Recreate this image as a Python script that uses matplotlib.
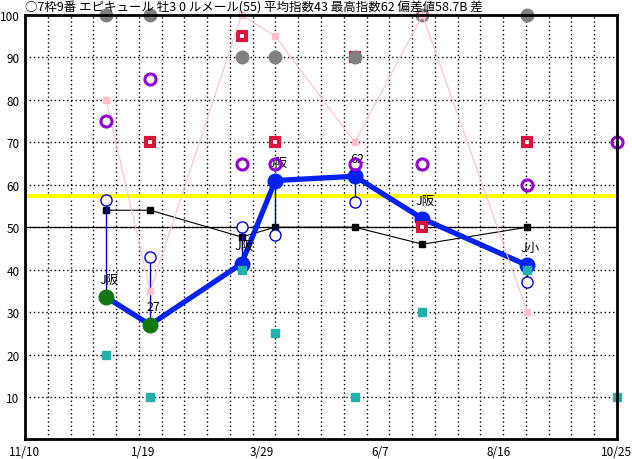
import matplotlib
matplotlib.use("Agg")
import matplotlib.pyplot as plt
import pandas as pd
import numpy as np

plt.rcParams['font.family'] = ['Noto Sans CJK JP', 'DejaVu Sans']

title = "○7枠9番 エピキュール 牡3 0 ルメール(55) 平均指数43 最高指数62 偏差値58.7B 差"

start_date = "2023-11-10"
end_date = "2024-10-25"
tick_labels = ["11/10", "1/19", "3/29", "6/7", "8/16", "10/25"]

race_dates = ["2023-12-28", "2024-01-23", "2024-03-17", "2024-04-06",
              "2024-05-23", "2024-07-02", "2024-09-02"]
next_date = "2024-10-25"

main_index = [33.5, 27, 41.4, 61, 62, 52, 41]
main_green = [True, True, False, False, False, False, False]
race_labels = ["J阪", "27", "J阪", "J阪", "62", "J阪", "J小"]
avg_line = [54, 54, 47.7, 50, 50, 46, 50]
low_circle = [56.3, 43, 50, 48.2, 56, None, 37]
purple_ring = [75, 85, 65, 65, 65, 65, 60]
purple_next = 70
red_square = [None, 70, 95, 70, 90, 50, 70]
gray_dot = [100, 100, 90, 90, 90, 100, 100]
pink_line = [80, 35, 100, 95, 70, 100, 30]
teal_square = [20, 10, 40, 25, 10, 30, 40]
teal_next = 10
dev_value = 57.3

t0 = pd.Timestamp(start_date)
def day(d):
    return (pd.Timestamp(d) - t0).days

xs = np.array([day(d) for d in race_dates])
x_next = day(next_date)
x_end = day(end_date)

fig = plt.figure(figsize=(6.32, 4.60), dpi=100)
ax = fig.add_axes([25 / 632, 19.6 / 460, 592 / 632, 424.4 / 460])
ax.set_xlim(0, x_end)
ax.set_ylim(0, 100)

# grid
for gx in np.linspace(0, x_end, 27)[1:-1]:
    ax.axvline(gx, color='black', lw=1, ls=(0, (1, 2)), zorder=1)
for gy in range(10, 100, 10):
    ax.axhline(gy, color='black', lw=1, ls=(0, (1, 2)), zorder=1)
ax.axhline(50, color='black', lw=0.9, zorder=2)
ax.axhline(dev_value, color='#ffff00', lw=3, zorder=2)

# average (black squares)
ax.plot(xs, avg_line, color='black', lw=0.8, marker='s', ms=4.5, zorder=3)

# low circles with vertical lines
for x, lo, m in zip(xs, low_circle, main_index):
    if lo is None:
        continue
    ax.plot([x, x], [lo, m], color='#0000cc', lw=1, zorder=3)
    ax.plot(x, lo, 'o', ms=8, mfc='white', mec='#0000cc', mew=1, zorder=3)

# main index line
ax.plot(xs, main_index, color='#0022ee', lw=3.8, zorder=4)
for x, v, g in zip(xs, main_index, main_green):
    c = '#117711' if g else '#0022ee'
    ax.plot(x, v, 'o', ms=10.5, color=c, zorder=5)
for x, v, lab in zip(xs, main_index, race_labels):
    ax.annotate(lab, (x, v), xytext=(2, 13), textcoords='offset points',
                ha='center', va='center', fontsize=9, zorder=6)

# pink line
ax.plot(xs, pink_line, color='#ffc0cb', lw=0.8, marker='s', ms=4,
        zorder=7, clip_on=False)

# teal squares
ax.plot(xs, teal_square, 's', ms=6, color='#20b2aa', ls='none', zorder=6)
ax.plot(x_next, teal_next, 's', ms=6, color='#20b2aa', zorder=6, clip_on=False)

# red squares
for x, v in zip(xs, red_square):
    if v is None:
        continue
    ax.plot(x, v, 's', ms=6, mfc='white', mec='#dc143c', mew=3, zorder=6)

# gray dots
ax.plot(xs, gray_dot, 'o', ms=9, color='#808080', ls='none', zorder=6.5,
        clip_on=False)

# purple rings
ax.plot(xs, purple_ring, 'o', ms=8, mfc='none', mec='#9400d3', mew=2.2,
        ls='none', zorder=8)
ax.plot(x_next, purple_next, 'o', ms=8, mfc='none', mec='#9400d3', mew=2.2,
        zorder=8, clip_on=False)

ax.set_xticks(np.linspace(0, x_end, len(tick_labels)))
ax.set_xticklabels(tick_labels)
ax.set_yticks(range(10, 101, 10))
ax.tick_params(length=0, labelsize=8.5, pad=4)
for s in ax.spines.values():
    s.set_linewidth(2)
    s.set_zorder(9)

fig.text(25 / 632, 1 - 8 / 460, title, ha='left', va='center', fontsize=9)

fig.savefig("out.png", dpi=100)
